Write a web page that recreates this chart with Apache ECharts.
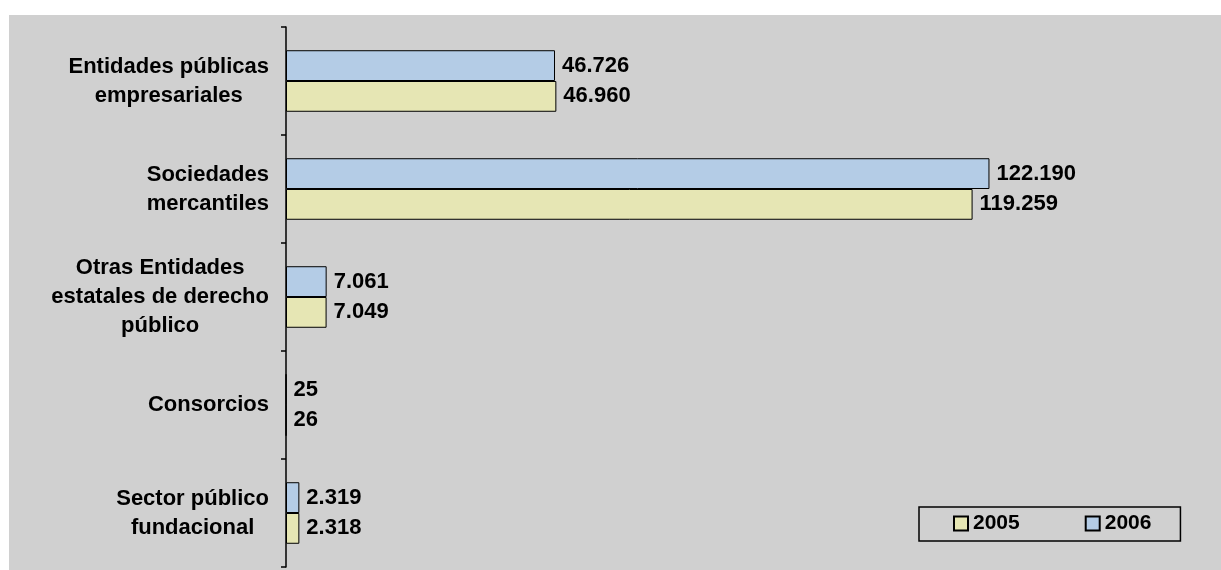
<!DOCTYPE html>
<html>
<head>
<meta charset="utf-8">
<script src="https://cdn.jsdelivr.net/npm/echarts@6/dist/echarts.min.js"></script>
<style>
  html, body { margin: 0; padding: 0; background: #ffffff; }
  #chart { position: absolute; left: 9px; top: 15px; width: 1212px; height: 555px; }
</style>
</head>
<body>
<div id="chart"></div>
<script>
const categories = [
  "Entidades públicas\nempresariales",
  "Sociedades\nmercantiles",
  "Otras Entidades\nestatales de derecho\npúblico",
  "Consorcios",
  "Sector público\nfundacional"
];
const seriesNames = ["2005", "2006"];
const values2006 = [46726, 122190, 7061, 25, 2319];
const values2005 = [46960, 119259, 7049, 26, 2318];

function fmt(v) {
  return String(v).replace(/\B(?=(\d{3})+(?!\d))/g, ".");
}

const FONT = "'Liberation Sans', Arial, sans-serif";
const labelStyle = {
  show: true,
  position: "right",
  distance: 7,
  color: "#000",
  fontFamily: FONT,
  fontWeight: "bold",
  fontSize: 22,
  formatter: p => fmt(p.value)
};

const chart = echarts.init(document.getElementById("chart"), null, { renderer: "canvas" });
chart.setOption({
  backgroundColor: "#d0d0d0",
  animation: false,
  grid: { left: 277, top: 12, width: 806, height: 540 },
  legend: {
    data: seriesNames,
    left: 910,
    top: 492,
    orient: "horizontal",
    borderColor: "#000",
    borderWidth: 1.5,
    padding: [6, 29, 7, 34],
    itemWidth: 14,
    itemHeight: 14,
    itemGap: 65,
    icon: "rect",
    textStyle: { color: "#000", fontFamily: FONT, fontWeight: "bold", fontSize: 21 }
  },
  xAxis: {
    type: "value",
    min: 0,
    max: 140000,
    show: false
  },
  yAxis: {
    type: "category",
    data: categories,
    inverse: true,
    axisLine: { show: true, lineStyle: { color: "#000", width: 1.5 } },
    axisTick: { show: true, length: 5, lineStyle: { color: "#000", width: 1.5 } },
    axisLabel: {
      margin: 17,
      color: "#000",
      fontFamily: FONT,
      fontWeight: "bold",
      fontSize: 22,
      lineHeight: 29,
      formatter: v => v.split("\n").map(l => "{c|" + l + "}").join("\n"),
      rich: {
        c: { align: "center", fontFamily: FONT, fontWeight: "bold", fontSize: 22, lineHeight: 29, color: "#000" }
      }
    },
    splitLine: { show: false }
  },
  series: [
    {
      name: "2006",
      type: "bar",
      data: values2006,
      barGap: "0%",
      barCategoryGap: "43%",
      itemStyle: { color: "#b4cce6", borderColor: "#000", borderWidth: 1 },
      label: labelStyle
    },
    {
      name: "2005",
      type: "bar",
      data: values2005,
      barGap: "0%",
      barCategoryGap: "43%",
      itemStyle: { color: "#e6e6b4", borderColor: "#000", borderWidth: 1 },
      label: labelStyle
    }
  ]
});
</script>
</body>
</html>
